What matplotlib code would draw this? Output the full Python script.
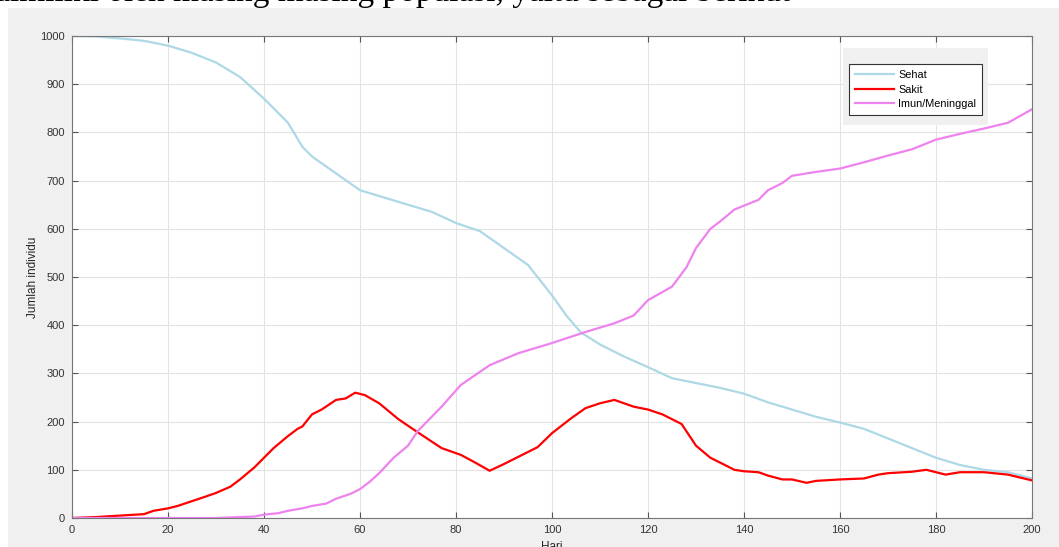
'''
Grafik populasi Sehat / Sakit / Imun-Meninggal (simulasi epidemi)
'''

# %% import packages

import matplotlib.pyplot as plt
from matplotlib.patches import Rectangle

plt.rcParams['font.family'] = ['Liberation Sans', 'DejaVu Sans']

# %% data

hari_sehat = [0, 5, 10, 15, 20, 25, 30, 35, 40, 45, 48, 50, 55, 60, 65, 70, 75, 80,
              85, 90, 95, 100, 103, 106, 110, 115, 120, 125, 130, 135, 140, 145, 150,
              155, 160, 165, 170, 175, 180, 185, 190, 195, 200]
sehat = [1000, 999, 995, 990, 980, 965, 945, 915, 870, 820, 770, 750, 715, 680, 665,
         650, 635, 612, 595, 560, 525, 462, 420, 385, 360, 335, 313, 290, 280, 270,
         258, 240, 225, 210, 198, 185, 165, 145, 125, 110, 100, 95, 82]

hari_sakit = [0, 5, 10, 15, 17, 20, 22, 25, 28, 30, 33, 35, 38, 40, 42, 45, 47, 48, 50,
              52, 55, 57, 59, 61, 64, 68, 72, 77, 81, 84, 87, 90, 93, 97, 100, 104, 107,
              110, 113, 117, 120, 123, 127, 130, 133, 135, 138, 140, 143, 145, 148, 150,
              153, 155, 160, 165, 168, 170, 175, 178, 180, 182, 185, 190, 195, 200]
sakit = [0, 2, 5, 8, 15, 20, 25, 35, 45, 52, 65, 80, 105, 125, 145, 170, 185, 190, 215,
         225, 245, 248, 260, 255, 238, 205, 178, 145, 131, 115, 98, 112, 127, 147, 176,
         207, 228, 238, 245, 231, 225, 215, 195, 150, 125, 115, 100, 97, 95, 88, 80, 80,
         73, 77, 80, 82, 90, 93, 96, 100, 95, 90, 95, 95, 90, 78]

hari_imun = [0, 10, 20, 30, 35, 38, 40, 43, 45, 48, 50, 53, 55, 58, 60, 62, 64, 67, 70,
             72, 77, 81, 87, 93, 100, 107, 113, 117, 120, 125, 128, 130, 133, 135, 138,
             140, 143, 145, 148, 150, 155, 160, 165, 170, 175, 180, 185, 190, 195, 200]
imun = [0, 0, 0, 0, 2, 3, 7, 10, 15, 20, 25, 30, 40, 50, 60, 75, 93, 125, 150, 180,
        231, 276, 317, 342, 363, 386, 404, 420, 452, 480, 520, 560, 600, 615, 640, 648,
        660, 680, 695, 710, 718, 725, 738, 752, 765, 785, 797, 808, 820, 848]

label_seri = ['Sehat', 'Sakit', 'Imun/Meninggal']
warna_seri = ['#add8e6', '#ff0000', '#ee82ee']

# %% gambar

W, H = 1059, 547
fig = plt.figure(figsize=(W / 100, H / 100), dpi=100, facecolor='white')

# latar abu-abu jendela figure (di bawah axes)
fig.patches.append(Rectangle((8 / W, 0), 1, 1 - 8 / H, transform=fig.transFigure,
                             facecolor='#f0f0f0', edgecolor='none', zorder=-5))
# potongan teks dokumen di atas gambar
fig.text(790 / W, 1 - 1 / H, 'yang dimiliki oleh masing masing populasi, yaitu sebagai berikut',
         ha='right', va='baseline', fontsize=24, family='Liberation Serif', zorder=-4)

ax = fig.add_axes([72 / W, 29 / H, 960 / W, 482 / H])
ax.set_facecolor('white')

ax.plot(hari_sehat, sehat, color=warna_seri[0], lw=1.6, label=label_seri[0])
ax.plot(hari_sakit, sakit, color=warna_seri[1], lw=1.6, label=label_seri[1])
ax.plot(hari_imun, imun, color=warna_seri[2], lw=1.6, label=label_seri[2])

ax.set_xlim(0, 200)
ax.set_ylim(0, 1000)
ax.set_xticks(range(0, 201, 20))
ax.set_yticks(range(0, 1001, 100))
ax.grid(True, color='#e3e3e3', lw=0.8)
ax.set_axisbelow(True)
ax.tick_params(direction='in', length=4, width=0.8, color='#555555',
               labelsize=8, labelcolor='#333333', top=True, right=True, pad=5)
for s in ax.spines.values():
    s.set_color('#777777')
    s.set_linewidth(0.8)

ax.set_ylabel('Jumlah individu', fontsize=8.5, color='#262626', labelpad=1)
fig.text(552 / W, 1 - 541 / H, 'Hari', ha='center', va='top', fontsize=8.5,
         color='#262626')

# kotak abu-abu di belakang legenda
ax.add_patch(Rectangle((843 / W, 1 - 125 / H), 145 / W, 77 / H,
                       transform=fig.transFigure, facecolor='#f0f0f0',
                       edgecolor='none', zorder=9))
leg = ax.legend(loc='upper left', bbox_to_anchor=(849 / W, 1 - 64 / H),
                bbox_transform=fig.transFigure, fontsize=7.8, frameon=True,
                fancybox=False, edgecolor='#333333', facecolor='white',
                framealpha=1, handlelength=3.6, handletextpad=0.4,
                borderpad=0.55, labelspacing=0.42, borderaxespad=0)
leg.get_frame().set_linewidth(0.8)
leg.set_zorder(10)

fig.savefig('out.png', dpi=100, facecolor=fig.get_facecolor())
